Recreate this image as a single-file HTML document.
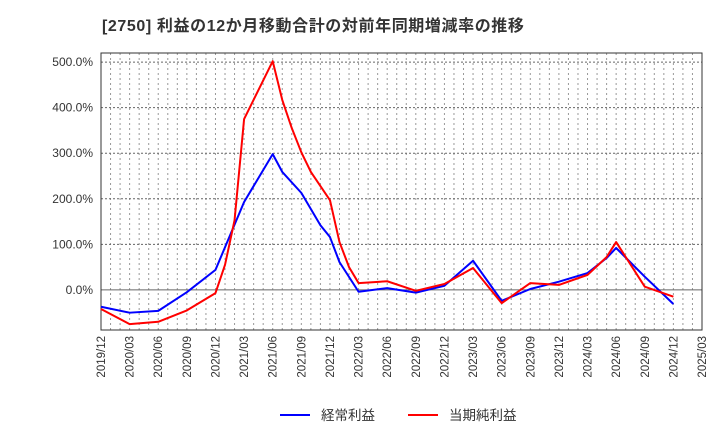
<!DOCTYPE html>
<html><head><meta charset="utf-8"><style>
body{margin:0;background:#fff;font-family:"Liberation Sans","Noto Sans CJK JP",sans-serif;}
svg text{font-family:"Liberation Sans","Noto Sans CJK JP",sans-serif;}
</style></head><body>
<svg id="c" width="720" height="440">
<text x="102" y="31" font-size="16" font-weight="bold" fill="#333" letter-spacing="0.6">[2750]  利益の12か月移動合計の対前年同期増減率の推移</text>
<g id="grid"></g><g id="axes"></g><g id="series"></g>
<g>
<line x1="280" y1="415" x2="310" y2="415" stroke="#0000ff" stroke-width="2"/>
<text x="321" y="420" font-size="13.5" fill="#333">経常利益</text>
<line x1="408" y1="415" x2="438" y2="415" stroke="#ff0000" stroke-width="2"/>
<text x="449" y="420" font-size="13.5" fill="#333">当期純利益</text>
</g>
</svg>
<script>
const xLabels=["2019/12","2020/03","2020/06","2020/09","2020/12","2021/03","2021/06","2021/09","2021/12","2022/03","2022/06","2022/09","2022/12","2023/03","2023/06","2023/09","2023/12","2024/03","2024/06","2024/09","2024/12","2025/03"];
const yTicks=[0,100,200,300,400,500];
const blueMonths=[0,3,6,9,12,15,18,19,21,23,24,25,27,30,33,36,39,42,45,48,51,53,54,57,60];
const blueValues=[-37,-50,-46,-5,44,193,298,259,213,142,116,61,-4,4,-6,9,64,-24,2,18,37,70,92,29,-31];
const redMonths=[0,3,6,9,12,13,14,15,18,19,20,21,22,24,25,26,27,30,33,36,39,42,45,48,51,53,54,57,60];
const redValues=[-42,-75,-70,-45,-7,55,153,375,502,417,355,302,259,197,105,50,15,19,-2,13,48,-29,15,11,33,72,105,7,-15];
const L=101,R=702,T=53,B=330,yMin=-88,yMax=520;
const xs=m=>L+m*(R-L)/63;
const ys=v=>B-(v-yMin)*(B-T)/(yMax-yMin);
const NS="http://www.w3.org/2000/svg";
function mk(tag,attrs,parent){const e=document.createElementNS(NS,tag);for(const k in attrs)e.setAttribute(k,attrs[k]);document.getElementById(parent).appendChild(e);return e;}
for(let m=1;m<63;m++){
 const e=mk("line",{x1:xs(m),x2:xs(m),y1:T,y2:B,stroke:"#999","stroke-dasharray":"2,3","stroke-width":1},"grid");
 
 
}
yTicks.forEach(v=>{
 const e=mk("line",{x1:L,x2:R,y1:ys(v),y2:ys(v),stroke:"#666","stroke-dasharray":v===0?"":"2,2","stroke-width":1},"grid");
 
 
 const t=mk("text",{x:L-8,y:ys(v)+4,"text-anchor":"end","font-size":12,fill:"#333"},"axes");
 t.textContent=v.toFixed(1)+"%";
 
 
});
const fr=mk("rect",{x:L,y:T,width:R-L,height:B-T,fill:"none",stroke:"#333","stroke-width":1},"axes");


xLabels.forEach((s,i)=>{
 const x=xs(i*3);
 const t=mk("text",{x:x+4,y:B+6,"text-anchor":"end","font-size":11.5,fill:"#333",transform:`rotate(-90 ${x+4} ${B+6})`},"axes");
 t.textContent=s;
 
 
});
function line(ms,vs,color,name){
 const p=mk("polyline",{points:ms.map((m,i)=>xs(m)+","+ys(vs[i])).join(" "),fill:"none",stroke:color,"stroke-width":2,"stroke-linejoin":"round"},"series");
 
 
}
line(blueMonths,blueValues,"#0000ff","ordinary-profit-line");
line(redMonths,redValues,"#ff0000","net-profit-line");
</script>
</body></html>
